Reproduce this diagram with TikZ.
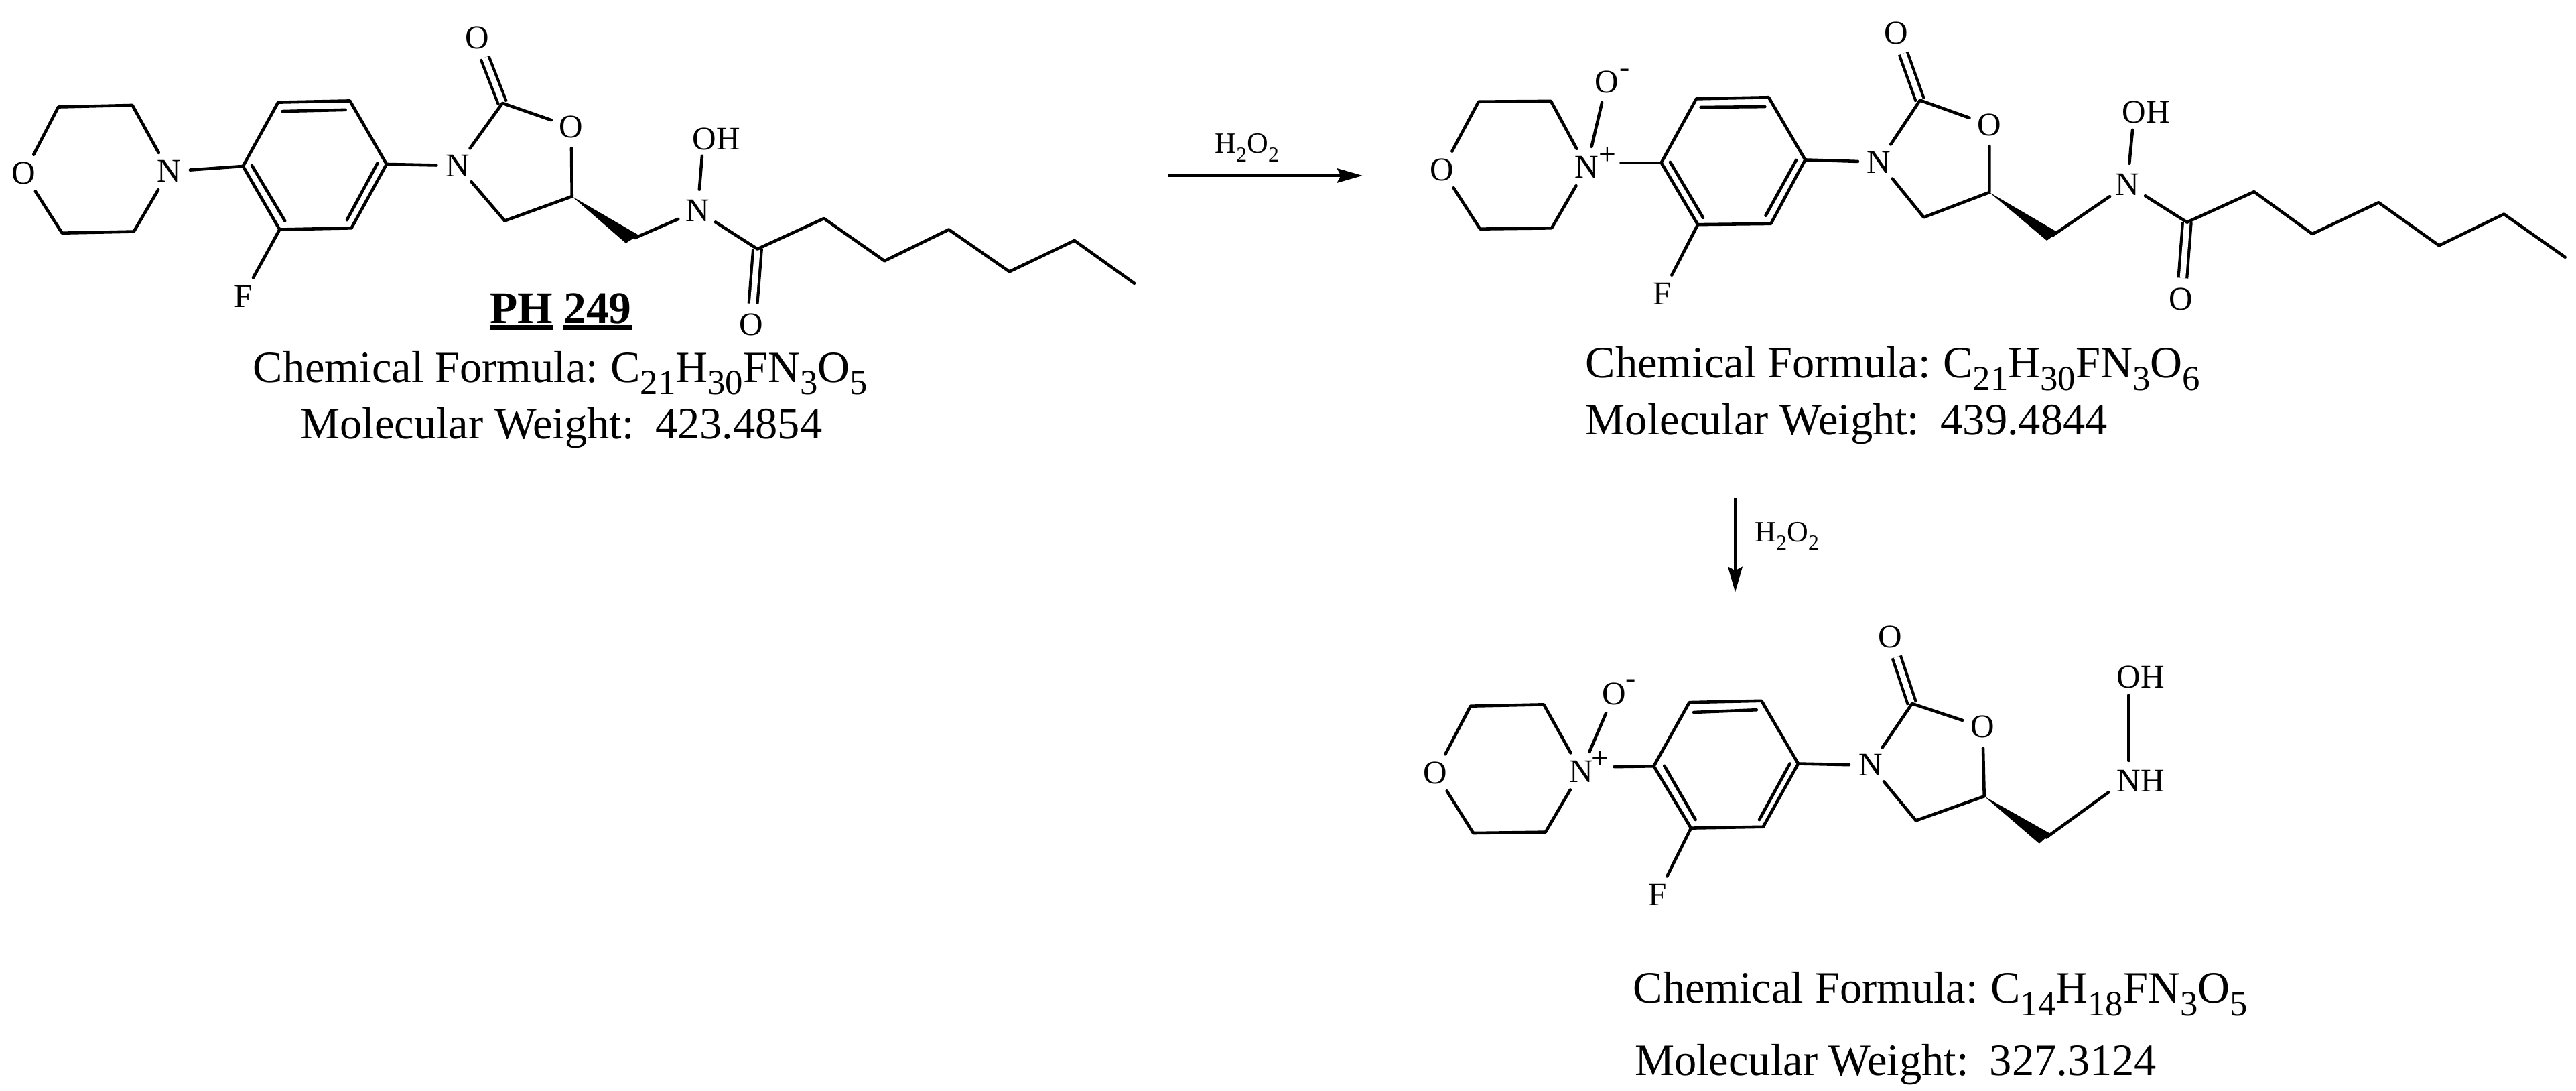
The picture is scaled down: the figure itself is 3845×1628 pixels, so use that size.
\documentclass[tikz,border=0pt]{standalone}
\usepackage{fontspec}
\setmainfont{Liberation Serif}
\usetikzlibrary{arrows.meta}
\newcommand\sbsL[1]{\raisebox{-0.28em}{\fontsize{15}{15}\selectfont #1}}
\newcommand\sbsS[1]{\raisebox{-0.28em}{\fontsize{9}{9}\selectfont #1}}
\newcommand\ulbar[1]{\setbox0\hbox{#1}\rlap{\rule[-2.8pt]{\wd0}{2.3pt}}\box0}
\tikzset{
  atom/.style={circle,inner sep=0pt,minimum size=0.62cm,font=\fontsize{14}{14}\selectfont},
  group/.style={inner sep=0pt,font=\fontsize{14}{14}\selectfont},
  charge/.style={inner sep=0pt,font=\fontsize{13}{14}\selectfont},
  info/.style={inner sep=0pt,anchor=base west,font=\fontsize{18.9}{24}\selectfont},
  reagent/.style={inner sep=0pt,anchor=base west,font=\fontsize{12.5}{14}\selectfont},
  bond/.style={line width=1.3pt,line cap=round,line join=round},
  dbond/.style={line width=1.2pt,double,double distance=2.4pt},
  rxn/.style={line width=1.4pt,-{Stealth[length=10.8pt,width=6pt,inset=1.5pt]}}
}
\begin{document}
\begin{tikzpicture}[x=0.01cm,y=-0.01cm]
\path[use as bounding box] (0,0) rectangle (3845,1628);

%% ---------- molecule 1
\begin{scope}[x=0.01116cm,y=-0.004337cm]
\node[atom] (aO) at (32,597) {O};
\node[atom] (aN) at (226,590) {N};
\coordinate (am1) at (78,368); \coordinate (am2) at (177,362);
\coordinate (am3) at (179,797); \coordinate (am4) at (83,802);
\draw[bond] (aO) -- (am1) -- (am2) -- (aN) -- (am3) -- (am4) -- (aO);
\coordinate (ap1) at (325,572); \coordinate (ap2) at (372,352); \coordinate (ap3) at (468,347);
\coordinate (ap4) at (517,565); \coordinate (ap5) at (470,785); \coordinate (ap6) at (374,790);
\draw[bond] (ap1) -- (ap2) -- (ap3) -- (ap4) -- (ap5) -- (ap6) -- cycle;
\coordinate (ai1) at (378,383); \coordinate (ai2) at (462,378);
\coordinate (ai3) at (337,570); \coordinate (ai4) at (381,760);
\coordinate (ai5) at (505,561); \coordinate (ai6) at (464,757);
\draw[bond] (ai1) -- (ai2); \draw[bond] (ai3) -- (ai4); \draw[bond] (ai5) -- (ai6);
\draw[bond] (aN) -- (ap1);
\node[atom] (aF) at (325,1020) {F};
\draw[bond] (ap6) -- (aF);
\node[atom] (aNr) at (612,570) {N};
\draw[bond] (ap4) -- (aNr);
\node[atom] (aOt) at (638,130) {O};
\coordinate (acc) at (672,355);
\draw[dbond] (acc) -- (aOt);
\node[atom] (aOr) at (764,437) {O};
\coordinate (ac5) at (765,676); \coordinate (ac4) at (675,760);
\draw[bond] (aNr) -- (acc) -- (aOr) -- (ac5) -- (ac4) -- (aNr);
\coordinate (aw1) at (854,809); \coordinate (aw2) at (837,837); \coordinate (ach) at (849,819);
\fill (ac5) -- (aw1) -- (aw2) -- cycle;
\node[atom] (aNh) at (933,725) {N};
\draw[bond] (ach) -- (aNh);
\node[group] (aOH) at (958,478) {OH};
\coordinate (aOHb) at (939,537);
\draw[bond] (aNh) -- (aOHb);
\coordinate (aca) at (1013,857);
\node[atom] (aOb) at (1005,1118) {O};
\draw[dbond] (aca) -- (aOb);
\coordinate (ac1) at (1102,752); \coordinate (ac2) at (1183,898); \coordinate (ac3) at (1269,790);
\coordinate (ac6) at (1350,935); \coordinate (ac7) at (1437,828); \coordinate (ac8) at (1517,975);
\draw[bond] (aNh) -- (aca) -- (ac1) -- (ac2) -- (ac3) -- (ac6) -- (ac7) -- (ac8);
\node[info,font=\fontsize{19.2}{24}\selectfont\bfseries] (atitle) at (655,1114) {\ulbar{PH}\hspace{4.5pt}\ulbar{249}};
\node[info] (aform) at (338,1315) {Chemical Formula:\hspace{0.28em}C\sbsL{21}H\sbsL{30}FN\sbsL{3}O\sbsL{5}};
\node[info] (amw) at (401,1510) {Molecular Weight:\hspace{0.47em}423.4854};
\end{scope}

%% ---------- molecule 2
\begin{scope}[x=0.011128cm,y=-0.004337cm,xshift=21cm]
\node[atom] (bO) at (46,585) {O};
\node[atom] (bN) at (240,576) {N};
\node[charge] (bplus) at (268,537) {+};
\coordinate (bm1) at (95,350); \coordinate (bm2) at (192,348);
\coordinate (bm3) at (193,785); \coordinate (bm4) at (97,788);
\draw[bond] (bO) -- (bm1) -- (bm2) -- (bN) -- (bm3) -- (bm4) -- (bO);
\node[atom] (bOm) at (267,282) {O};
\node[charge] (bminus) at (291,252) {-};
\draw[bond] (bN) -- (bOm);
\coordinate (bp1) at (340,560); \coordinate (bp2) at (387,340); \coordinate (bp3) at (484,335);
\coordinate (bp4) at (533,550); \coordinate (bp5) at (487,770); \coordinate (bp6) at (389,773);
\draw[bond] (bp1) -- (bp2) -- (bp3) -- (bp4) -- (bp5) -- (bp6) -- cycle;
\coordinate (bi1) at (393,369); \coordinate (bi2) at (479,367);
\coordinate (bi3) at (352,558); \coordinate (bi4) at (396,749);
\coordinate (bi5) at (521,551); \coordinate (bi6) at (480,742);
\draw[bond] (bi1) -- (bi2); \draw[bond] (bi3) -- (bi4); \draw[bond] (bi5) -- (bi6);
\coordinate (bNe) at (286,560);
\draw[bond] (bNe) -- (bp1);
\node[atom] (bF) at (341,1012) {F};
\draw[bond] (bp6) -- (bF);
\node[atom] (bNr) at (632,558) {N};
\draw[bond] (bp4) -- (bNr);
\node[atom] (bOt) at (655,115) {O};
\coordinate (bcc) at (687,345);
\draw[dbond] (bcc) -- (bOt);
\node[atom] (bOr) at (780,430) {O};
\coordinate (bc5) at (780,662); \coordinate (bc4) at (692,748);
\draw[bond] (bNr) -- (bcc) -- (bOr) -- (bc5) -- (bc4) -- (bNr);
\coordinate (bw1) at (872,800); \coordinate (bw2) at (857,828); \coordinate (bch) at (865,810);
\fill (bc5) -- (bw1) -- (bw2) -- cycle;
\node[atom] (bNh) at (965,635) {N};
\draw[bond] (bch) -- (bNh);
\node[group] (bOH) at (990,387) {OH};
\coordinate (bOHb) at (972,447);
\draw[bond] (bNh) -- (bOHb);
\coordinate (bca) at (1045,765);
\node[atom] (bOb) at (1037,1030) {O};
\draw[dbond] (bca) -- (bOb);
\coordinate (bc1) at (1135,660); \coordinate (bc2) at (1213,805); \coordinate (bc3) at (1302,697);
\coordinate (bc6) at (1383,845); \coordinate (bc7) at (1470,737); \coordinate (bc8) at (1552,885);
\draw[bond] (bNh) -- (bca) -- (bc1) -- (bc2) -- (bc3) -- (bc6) -- (bc7) -- (bc8);
\node[info] (bform) at (238,1300) {Chemical Formula:\hspace{0.28em}C\sbsL{21}H\sbsL{30}FN\sbsL{3}O\sbsL{6}};
\node[info] (bmw) at (238,1495) {Molecular Weight:\hspace{0.47em}439.4844};
\end{scope}

%% ---------- molecule 3
\begin{scope}[x=0.00829cm,y=-0.004643cm,xshift=21cm,yshift=-9cm]
\node[atom] (cO) at (50,545) {O};
\node[atom] (cN) at (312,540) {N};
\node[charge] (cplus) at (346,503) {+};
\coordinate (cm1) at (113,330); \coordinate (cm2) at (245,325);
\coordinate (cm3) at (248,735); \coordinate (cm4) at (118,738);
\draw[bond] (cO) -- (cm1) -- (cm2) -- (cN) -- (cm3) -- (cm4) -- (cO);
\node[atom] (cOm) at (372,290) {O};
\node[charge] (cminus) at (402,258) {-};
\draw[bond] (cN) -- (cOm);
\coordinate (cp1) at (443,523); \coordinate (cp2) at (507,318); \coordinate (cp3) at (637,313);
\coordinate (cp4) at (703,515); \coordinate (cp5) at (640,718); \coordinate (cp6) at (510,722);
\draw[bond] (cp1) -- (cp2) -- (cp3) -- (cp4) -- (cp5) -- (cp6) -- cycle;
\coordinate (ci1) at (515,350); \coordinate (ci2) at (628,342);
\coordinate (ci3) at (462,522); \coordinate (ci4) at (518,695);
\coordinate (ci5) at (688,515); \coordinate (ci6) at (633,695);
\draw[bond] (ci1) -- (ci2); \draw[bond] (ci3) -- (ci4); \draw[bond] (ci5) -- (ci6);
\coordinate (cNe) at (372,525);
\draw[bond] (cNe) -- (cp1);
\node[atom] (cF) at (450,938) {F};
\draw[bond] (cp6) -- (cF);
\node[atom] (cNr) at (833,520) {N};
\draw[bond] (cp4) -- (cNr);
\node[atom] (cOt) at (868,107) {O};
\coordinate (ccc) at (908,322);
\draw[dbond] (ccc) -- (cOt);
\node[atom] (cOr) at (1035,397) {O};
\coordinate (cc5) at (1038,620); \coordinate (cc4) at (915,698);
\draw[bond] (cNr) -- (ccc) -- (cOr) -- (cc5) -- (cc4) -- (cNr);
\coordinate (cw1) at (1157,740); \coordinate (cw2) at (1137,772); \coordinate (cch) at (1150,752);
\fill (cc5) -- (cw1) -- (cw2) -- cycle;
\node[group] (cNH) at (1320,570) {NH};
\coordinate (cNHl) at (1262,607); \coordinate (cNHt) at (1298,505);
\draw[bond] (cch) -- (cNHl);
\node[group] (cOH) at (1320,237) {OH};
\coordinate (cOHb) at (1298,295);
\draw[bond] (cNHt) -- (cOHb);
\node[info] (cform) at (405,1285) {Chemical Formula:\hspace{0.28em}C\sbsL{14}H\sbsL{18}FN\sbsL{3}O\sbsL{5}};
\node[info] (cmw) at (408,1517) {Molecular Weight:\hspace{0.47em}327.3124};
\end{scope}

%% ---------- reaction arrows
\coordinate (r1s) at (1743,262); \coordinate (r1e) at (2034,262);
\draw[rxn] (r1s) -- (r1e);
\node[reagent] (r1) at (1813,229) {H\sbsS{2}O\sbsS{2}};
\coordinate (r2s) at (2590,743); \coordinate (r2e) at (2590,884);
\draw[rxn] (r2s) -- (r2e);
\node[reagent] (r2) at (2619,808) {H\sbsS{2}O\sbsS{2}};
\end{tikzpicture}
\end{document}
